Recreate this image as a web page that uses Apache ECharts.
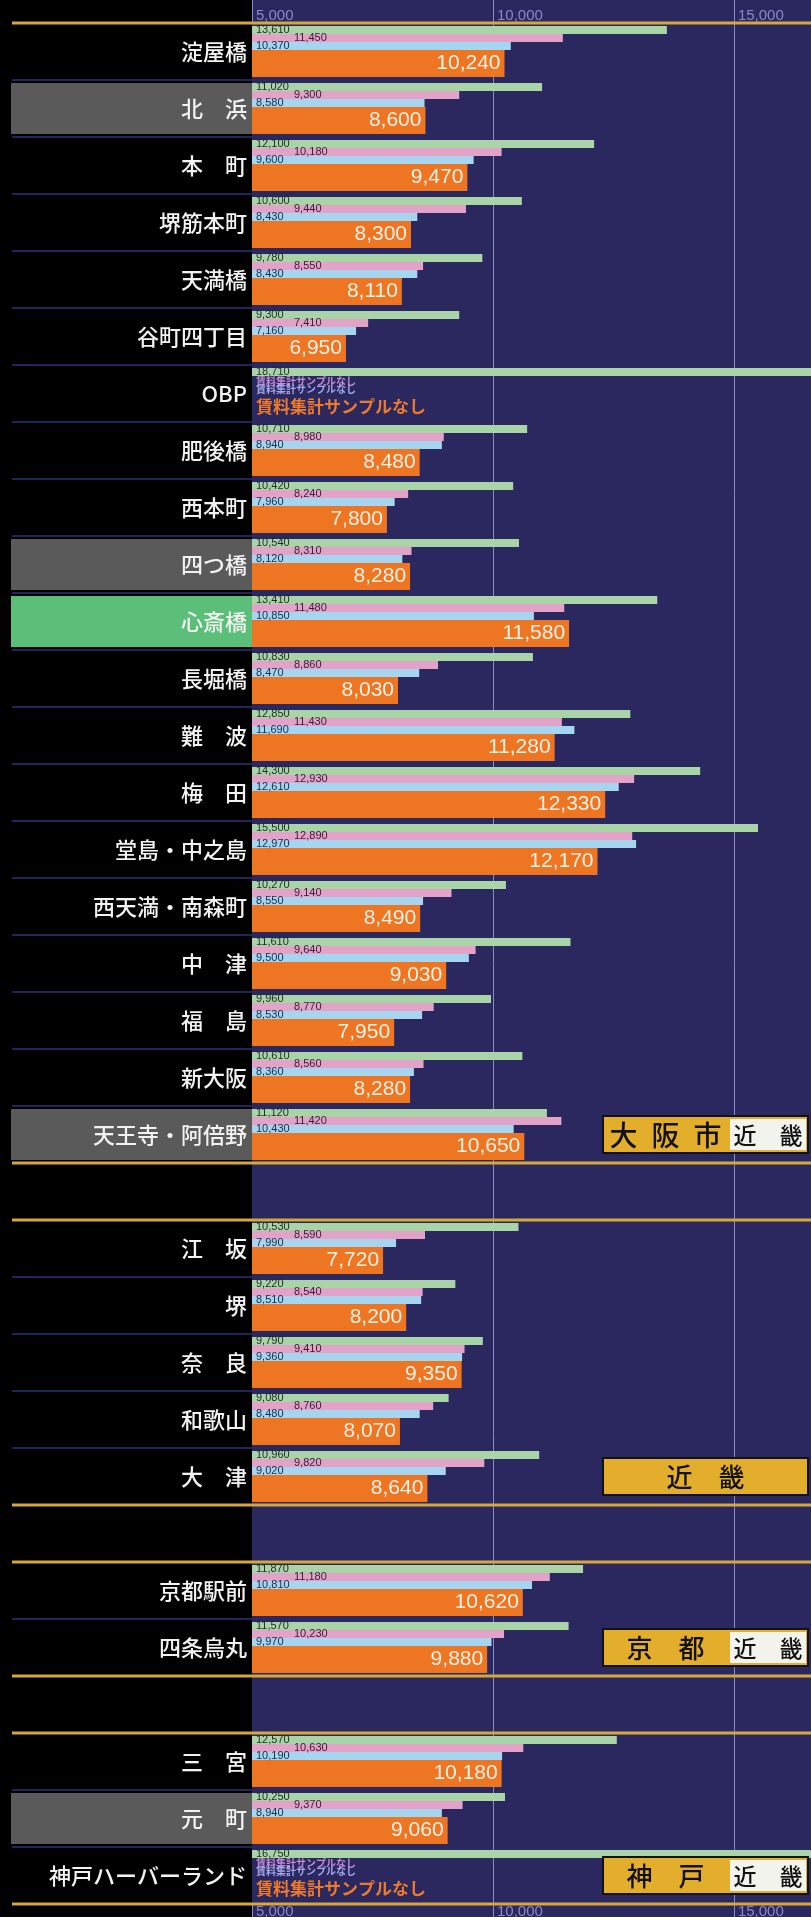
<!DOCTYPE html>
<html><head><meta charset="utf-8">
<script src="https://cdn.jsdelivr.net/npm/echarts@6/dist/echarts.min.js"></script>
<style>
html,body{margin:0;padding:0;background:#000;}
#c{width:811px;height:1917px;background:linear-gradient(to right,#000 0,#000 252px,#2a285e 252px,#2a285e 100%);}
</style></head><body><div id="c"></div>
<script>
// ---- data ----
const categories = ['淀屋橋','北　浜','本　町','堺筋本町','天満橋','谷町四丁目','OBP','肥後橋','西本町','四つ橋','心斎橋','長堀橋','難　波','梅　田','堂島・中之島','西天満・南森町','中　津','福　島','新大阪','天王寺・阿倍野',' ','江　坂','堺','奈　良','和歌山','大　津','  ','京都駅前','四条烏丸','   ','三　宮','元　町','神戸ハーバーランド'];
const green  = [13610,11020,12100,10600,9780,9300,18710,10710,10420,10540,13410,10830,12850,14300,15500,10270,11610,9960,10610,11120,null,10530,9220,9790,9080,10960,null,11870,11570,null,12570,10250,16750];
const pink   = [11450,9300,10180,9440,8550,7410,null,8980,8240,8310,11480,8860,11430,12930,12890,9140,9640,8770,8560,11420,null,8590,8540,9410,8760,9820,null,11180,10230,null,10630,9370,null];
const blue   = [10370,8580,9600,8430,8430,7160,null,8940,7960,8120,10850,8470,11690,12610,12970,8550,9500,8530,8360,10430,null,7990,8510,9360,8480,9020,null,10810,9970,null,10190,8940,null];
const orange = [10240,8600,9470,8300,8110,6950,null,8480,7800,8280,11580,8030,11280,12330,12170,8490,9030,7950,8280,10650,null,7720,8200,9350,8070,8640,null,10620,9880,null,10180,9060,null];
const highlightRows = {'北　浜':'g','四つ橋':'g','心斎橋':'k','天王寺・阿倍野':'g','元　町':'g'};
const noSampleText = '賃料集計サンプルなし';
const groupMain = ['大\u2002阪\u2002市','近\u3000畿','京\u3000都','神\u3000戸'];
const groupSub  = ['近\u3000畿','','近\u3000畿','近\u3000畿'];
const AXIS_MIN = 5000, AXIS_MAX = 16600, AXIS_STEP = 5000;

// ---- style ----
const CJK = "'Noto Sans CJK JP','Noto Sans',sans-serif";
const LAT = "'Liberation Sans',Arial,sans-serif";
const GOLD = '#d4a83a', LAV = '#8c89c8';
const C_GREEN = '#a9d4a8', C_PINK = '#e3a3c9', C_BLUE = '#a6d6ef', C_ORANGE = '#ee7623';
const fmt = v => v == null ? '' : Number(v).toLocaleString('en-US');

const rowBase = {width:236, height:51, lineHeight:51, align:'right', padding:[0,5,0,0],
  color:'#f2f2f2', fontSize:22, fontFamily:CJK, fontWeight:500};

const smallLabel = (color, distance) => ({show:true, position:'insideLeft', distance,
  formatter:p => fmt(p.value), fontSize:11, fontFamily:LAT, color, textBorderWidth:0});

const xAxisBase = (pos) => ({
  type:'value', position:pos, min:AXIS_MIN, max:AXIS_MAX, interval:AXIS_STEP,
  axisLine:{show:false},
  axisTick:{show:true, length: pos==='top'?23:13, lineStyle:{color:LAV, width:1}},
  axisLabel:{show:true, color:LAV, fontSize:15, fontFamily:LAT, align:'left', margin:0,
    padding:[0,0,0,4], showMaxLabel:false, formatter:v => fmt(v)},
  splitLine:{show: pos==='top', showMinLine:false, showMaxLine:false, lineStyle:{color:LAV, width:1}}
});

const option = {
  animation:false,
  backgroundColor:'transparent',
  grid:{left:252, right:0, top:23, bottom:13, containLabel:false, outerBoundsMode:'none'},
  xAxis:[xAxisBase('top'), xAxisBase('bottom')],
  yAxis:{
    type:'category', inverse:true, data:categories,
    axisLine:{show:false},
    axisTick:{show:true, interval:0, alignWithLabel:false, length:240, lineStyle:{color:'#23245a', width:2}},
    axisLabel:{interval:0, margin:0,
      formatter:(v) => '{' + (highlightRows[v] || 'n') + '|' + v + '}',
      rich:{
        n:Object.assign({}, rowBase),
        g:Object.assign({}, rowBase, {backgroundColor:'#5a5a5a'}),
        k:Object.assign({}, rowBase, {backgroundColor:'#5cbf79'})
      }},
    splitLine:{show:false}
  },
  series:[
    {name:'系列1', type:'bar', data:green, barWidth:8, barGap:'0%', itemStyle:{color:C_GREEN},
      label:smallLabel('#1f2a22',4), emphasis:{disabled:true}},
    {name:'系列2', type:'bar', data:pink, barWidth:8, barGap:'0%', itemStyle:{color:C_PINK},
      label:smallLabel('#3a1a3a',42), emphasis:{disabled:true}},
    {name:'系列3', type:'bar', data:blue, barWidth:8, barGap:'0%', itemStyle:{color:C_BLUE},
      label:smallLabel('#142e4c',4), emphasis:{disabled:true}},
    {name:'系列4', type:'bar', data:orange, barWidth:27, barGap:'0%', itemStyle:{color:C_ORANGE},
      label:{show:true, position:'insideRight', distance:4, formatter:p => fmt(p.value),
        fontSize:21, fontFamily:LAT, color:'#fdf1e6', textBorderWidth:0},
      emphasis:{disabled:true}}
  ]
};

const chart = echarts.init(document.getElementById('c'), null, {renderer:'canvas'});
chart.setOption(option);

// ---- decorations positioned through the chart's own scales ----
const yc = i => chart.convertToPixel({yAxisIndex:0}, i);
const pitch = yc(1) - yc(0);
const x0 = chart.convertToPixel({xAxisIndex:0}, AXIS_MIN);
const W = chart.getWidth();
const isBlank = i => categories[i].trim() === '';
const gfx = [];

// gold group separators
const bounds = [yc(0) - pitch/2];
categories.forEach((n,i) => { if (isBlank(i)) bounds.push(yc(i) - pitch/2, yc(i) + pitch/2); });
bounds.push(yc(categories.length-1) + pitch/2);
bounds.forEach(y => gfx.push({type:'line', silent:true, z:50,
  shape:{x1:12, y1:y, x2:W, y2:y}, style:{stroke:GOLD, lineWidth:3}}));

// "no sample" notes
categories.forEach((n,i) => {
  if (green[i] != null && pink[i] == null) {
    const c = yc(i);
    const t = (txt, y, size, color, weight) => gfx.push({type:'text', silent:true, z:50, x:x0+4, y,
      style:{text:txt, fill:color, fontSize:size, fontFamily:CJK, fontWeight:weight,
        align:'left', verticalAlign:'middle', textAlign:'left', textVerticalAlign:'middle'}});
    t(noSampleText, c - 12.5, 10, '#c58ad8', 'bold');
    t(noSampleText, c - 4.5, 10, '#a4a8ea', 'bold');
    t(noSampleText, c + 13, 17, '#ee7a2e', 'bold');
  }
});

// group title boxes on the last row of each group
const lastRows = [];
categories.forEach((n,i) => { if (!isBlank(i) && (i === categories.length-1 || isBlank(i+1))) lastRows.push(i); });
lastRows.forEach((ri, k) => {
  const c = yc(ri), bx = 603, bw = 205, bh = 37, by = c - bh/2;
  const hasSub = groupSub[k] !== '';
  gfx.push({type:'rect', silent:true, z:60, shape:{x:bx, y:by, width:bw, height:bh},
    style:{fill:'#e3ae2c', stroke:'#111', lineWidth:2}});
  const mainRight = hasSub ? bx + bw - 80 : bx + bw;
  gfx.push({type:'text', silent:true, z:61, x:(bx + mainRight)/2, y:c + 1,
    style:{text:groupMain[k], fill:'#111', fontSize: k===0 ? 28 : 26, fontFamily:CJK, fontWeight:500,
      align:'center', verticalAlign:'middle', textAlign:'center', textVerticalAlign:'middle'}});
  if (hasSub) {
    gfx.push({type:'rect', silent:true, z:61, shape:{x:bx + bw - 78, y:by + 3, width:76, height:bh - 6},
      style:{fill:'#f3f3ee'}});
    gfx.push({type:'text', silent:true, z:62, x:bx + bw - 40, y:c + 1,
      style:{text:groupSub[k], fill:'#111', fontSize:23, fontFamily:CJK, fontWeight:500,
        align:'center', verticalAlign:'middle', textAlign:'center', textVerticalAlign:'middle'}});
  }
});

chart.setOption({graphic:{elements:gfx}});
</script></body></html>
